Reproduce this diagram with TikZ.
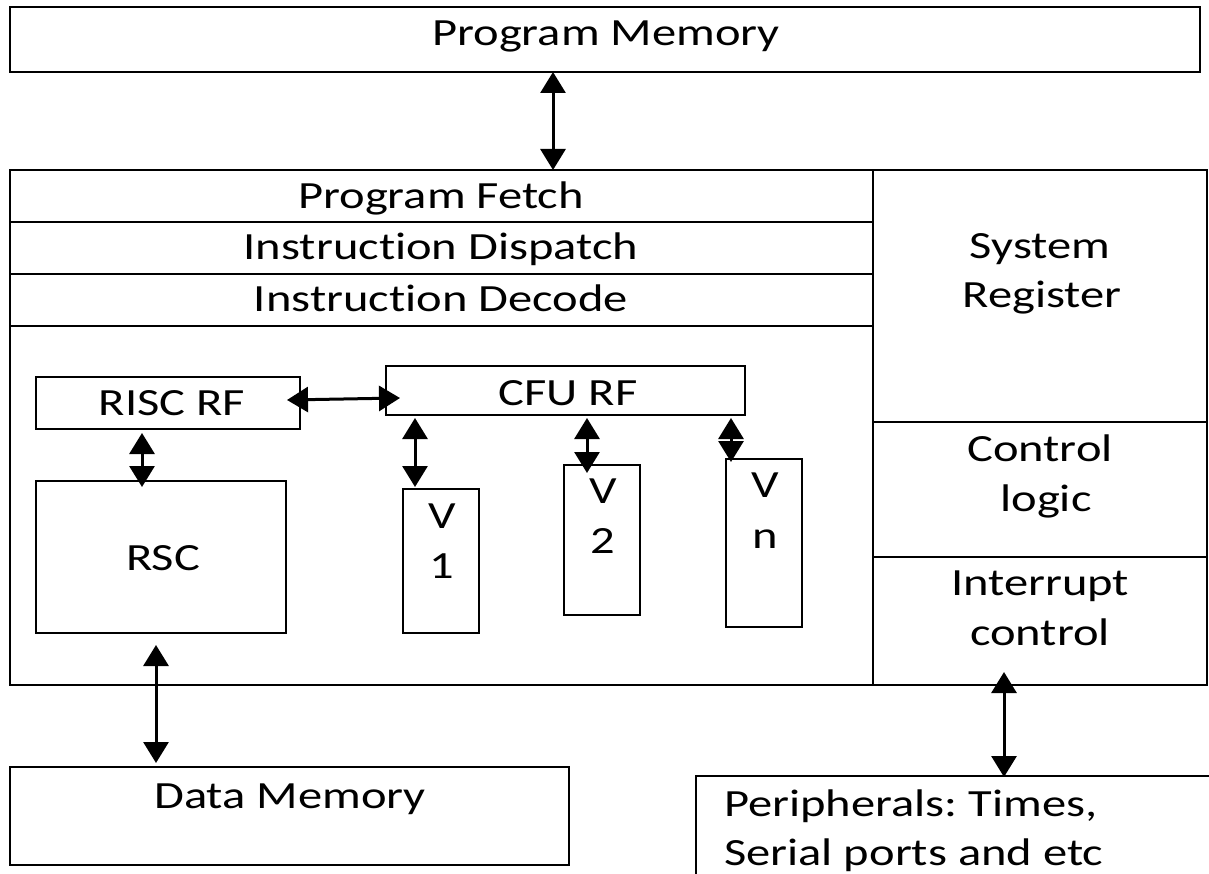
\documentclass[tikz,border=0pt]{standalone}
\usepackage{fontspec}
\usetikzlibrary{arrows.meta}
\newfontfamily\labfont{Carlito}[FakeStretch=1.26,Ligatures={NoCommon,NoRare}]
\frenchspacing
\begin{document}
\begin{tikzpicture}[x=1pt,y=-1pt,
  box/.style={draw,line width=2.4pt,rectangle,inner sep=0pt,outer sep=0pt},
  lab/.style={inner sep=0pt,anchor=base,font=\labfont\fontsize{38.5}{50}\selectfont},
  link/.style={line width=3pt,{Triangle[width=25pt,length=21pt]}-{Triangle[width=25pt,length=21pt]}}]
\useasboundingbox (0,0) rectangle (1209,874);
\clip (0,0) rectangle (1209,874);

% memories
\node[box,minimum width=1190pt,minimum height=65pt] (pm) at (605,39.5) {};
\node[box,minimum width=559pt,minimum height=98pt] (dm) at (289.5,816) {};
\node[box,minimum width=534pt,minimum height=124pt] (periph) at (963,838) {};

% processor core: pipeline stages
\node[box,minimum width=863pt,minimum height=52pt] (fetch) at (441.5,196) {};
\node[box,minimum width=863pt,minimum height=52pt] (dispatch) at (441.5,248) {};
\node[box,minimum width=863pt,minimum height=52pt] (decode) at (441.5,300) {};
\node[box,minimum width=863pt,minimum height=359pt] (exec) at (441.5,505.5) {};

% right column
\node[box,minimum width=334pt,minimum height=252pt] (sysreg) at (1040,296) {};
\node[box,minimum width=334pt,minimum height=135pt] (ctrl) at (1040,489.5) {};
\node[box,minimum width=334pt,minimum height=128pt] (intr) at (1040,621) {};

% execution units
\node[box,minimum width=264pt,minimum height=52pt] (riscrf) at (168,403) {};
\node[box,minimum width=359pt,minimum height=49pt] (cfurf) at (565.5,390.5) {};
\node[box,minimum width=250pt,minimum height=152pt] (rsc) at (161,557) {};
\node[box,minimum width=76pt,minimum height=144pt] (v1) at (441,561) {};
\node[box,minimum width=76pt,minimum height=150pt] (v2) at (602,540) {};
\node[box,minimum width=76pt,minimum height=168pt] (vn) at (764,543) {};

% labels
\node[lab] (tpm) at (606,46) {Program Memory};
\node[lab] (tfetch) at (441,209) {Program Fetch};
\node[lab] (tdisp) at (441,260) {Instruction Dispatch};
\node[lab] (tdec) at (441,312) {Instruction Decode};
\node[lab] (tsys1) at (1040,259) {System};
\node[lab] (tsys2) at (1042,308) {Register};
\node[lab] (tctl1) at (1040,461) {Control};
\node[lab] (tctl2) at (1046,511) {logic};
\node[lab] (tint1) at (1040,595) {Interrupt};
\node[lab] (tint2) at (1040,645) {control};
\node[lab] (trisc) at (172,415) {RISC RF};
\node[lab] (tcfu) at (568,405) {CFU RF};
\node[lab] (trsc) at (163,570) {RSC};
\node[lab] (tv1a) at (442,528) {V};
\node[lab] (tv1b) at (442,578) {1};
\node[lab] (tv2a) at (603,503) {V};
\node[lab] (tv2b) at (603,553) {2};
\node[lab] (tvna) at (765,497) {V};
\node[lab] (tvnb) at (765,548) {n};
\node[lab] (tdm) at (290,808) {Data Memory};
\node[lab,anchor=base west] (tper1) at (724,816) {Peripherals: Times,};
\node[lab,anchor=base west] (tper2) at (724,865) {Serial ports and etc};

% connectors
\draw[link] ([xshift=-52pt]pm.south) -- ([xshift=111.5pt]fetch.north);
\draw[link] ([xshift=-13pt,yshift=3pt]riscrf.east) -- ([xshift=14pt,yshift=-7.5pt]cfurf.west);
\draw[link] ([xshift=-26pt,yshift=-4pt]riscrf.south) -- ([xshift=-19pt,yshift=-6pt]rsc.north);
\draw[link] ([xshift=-150.5pt,yshift=-3pt]cfurf.south) -- ([xshift=-26pt,yshift=2pt]v1.north);
\draw[link] ([xshift=21.5pt,yshift=-3pt]cfurf.south) -- ([xshift=-15pt,yshift=-8pt]v2.north);
\draw[link] ([xshift=165.5pt,yshift=-3pt]cfurf.south) -- ([xshift=-33pt,yshift=-3pt]vn.north);
\draw[link] ([xshift=-5pt,yshift=-12pt]rsc.south) -- ([xshift=-133.5pt,yshift=4pt]dm.north);
\draw[link] ([xshift=-36pt,yshift=13pt]intr.south) -- ([xshift=41pt,yshift=-1pt]periph.north);
\end{tikzpicture}
\end{document}
